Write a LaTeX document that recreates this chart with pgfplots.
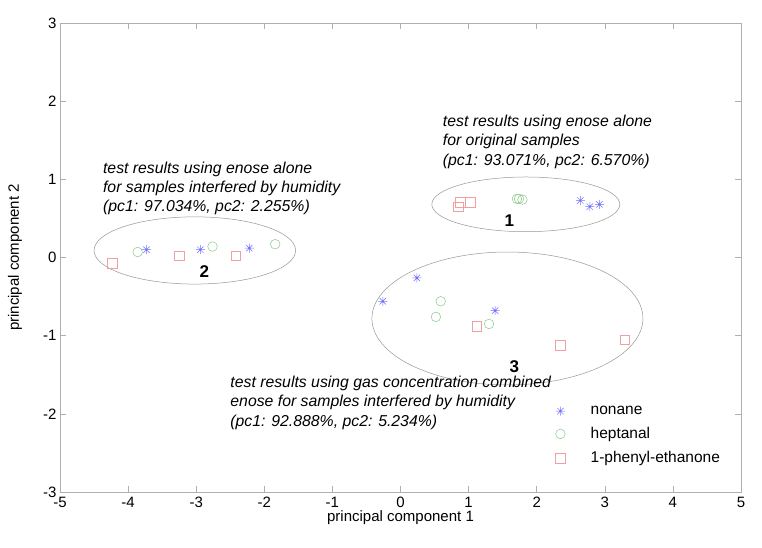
\documentclass[border=0pt]{standalone}
\usepackage{pgfplots}
\pgfplotsset{compat=1.18}
\usepackage{fontspec}
\setmainfont{Liberation Sans}
\definecolor{cstar}{RGB}{110,110,255}
\definecolor{ccirc}{RGB}{135,200,135}
\definecolor{csq}{RGB}{240,160,160}
\definecolor{axgray}{RGB}{175,175,175}
\definecolor{ellgray}{RGB}{150,150,150}
\pgfdeclareplotmark{mstar}{%
 \pgfpathmoveto{\pgfqpoint{-\pgfplotmarksize}{0pt}}\pgfpathlineto{\pgfqpoint{\pgfplotmarksize}{0pt}}%
 \pgfpathmoveto{\pgfqpoint{0pt}{-\pgfplotmarksize}}\pgfpathlineto{\pgfqpoint{0pt}{\pgfplotmarksize}}%
 \pgfpathmoveto{\pgfqpoint{-0.707\pgfplotmarksize}{-0.707\pgfplotmarksize}}\pgfpathlineto{\pgfqpoint{0.707\pgfplotmarksize}{0.707\pgfplotmarksize}}%
 \pgfpathmoveto{\pgfqpoint{-0.707\pgfplotmarksize}{0.707\pgfplotmarksize}}\pgfpathlineto{\pgfqpoint{0.707\pgfplotmarksize}{-0.707\pgfplotmarksize}}%
 \pgfusepathqstroke}
\newcommand{\lab}{\fontsize{15}{18}\selectfont}
\newcommand{\leg}{\fontsize{15.5}{18}\selectfont}
\newcommand{\ann}{\fontsize{15.8}{19.5}\selectfont\itshape}
\begin{document}
\begin{tikzpicture}
\begin{axis}[
  name=ax,
  scale only axis,
  width=681pt, height=469pt,
  xmin=-5, xmax=5, ymin=-3, ymax=3,
  xtick={-5,-4,...,5}, ytick={-3,-2,...,3},
  tick align=inside,
  major tick length=6pt,
  tick style={axgray, line width=0.5pt},
  axis line style={axgray, line width=0.6pt},
  /pgf/number format/assume math mode=true,
  ticklabel style={font=\lab},
  xticklabel style={yshift=-1.5pt},
  xlabel={principal component 1},
  ylabel={principal component 2},
  every axis x label/.style={at={(axis description cs:0.5,-0.055)}, anchor=center, font=\lab, inner sep=0pt},
  every axis y label/.style={at={(axis description cs:-0.066,0.5)}, rotate=90, anchor=center, font=\lab},
  legend cell align=left,
  legend image code/.code={\path (0pt,0pt) (37pt,0pt); \draw[#1] plot coordinates {(9pt,0pt)};},
  legend style={draw=none, fill=none, inner sep=0pt, at={(axis cs:2.21,-1.874)}, anchor=north west, font=\leg, row sep=7.5pt},
]
\addplot[only marks, mark=mstar, mark size=4.5pt, cstar, line width=0.5pt] coordinates {
 (-3.73,0.10) (-2.94,0.10) (-2.22,0.12)
 (2.64,0.73) (2.78,0.65) (2.92,0.68)
 (-0.26,-0.56) (0.24,-0.26) (1.39,-0.68)
};
\addlegendentry{nonane}
\addplot[only marks, mark=o, mark size=4.8pt, ccirc, line width=0.5pt] coordinates {
 (-3.86,0.07) (-2.76,0.14) (-1.84,0.17)
 (1.71,0.75) (1.74,0.75) (1.79,0.74)
 (0.59,-0.56) (0.52,-0.76) (1.30,-0.85)
};
\addlegendentry{heptanal}
\addplot[only marks, mark=square, mark size=4.8pt, csq, line width=0.5pt] coordinates {
 (-4.23,-0.07) (-3.25,0.02) (-2.42,0.02)
 (0.85,0.65) (0.88,0.71) (1.02,0.71)
 (1.12,-0.88) (2.35,-1.12) (3.29,-1.05)
};
\addlegendentry{1-phenyl-ethanone}
\draw[ellgray, line width=0.5pt] (axis cs:-3.02,0.09) ellipse [x radius=1.48, y radius=0.43];
\draw[ellgray, line width=0.5pt] (axis cs:1.84,0.68) ellipse [x radius=1.38, y radius=0.35];
\draw[ellgray, line width=0.5pt] (axis cs:1.57,-0.78) ellipse [x radius=1.99, y radius=0.85];
\node[anchor=north west, align=left, inner sep=0pt, font=\ann] at (axis cs:-4.37,1.23)
 {test results using enose alone\\for samples interfered by humidity\\(pc1: 97.034\%, pc2: 2.255\%)};
\node[anchor=north west, align=left, inner sep=0pt, font=\ann] at (axis cs:0.62,1.83)
 {test results using enose alone\\for original samples\\(pc1: 93.071\%, pc2: 6.570\%)};
\node[anchor=north west, align=left, inner sep=0pt, font=\ann] at (axis cs:-2.50,-1.51)
 {test results using gas concentration combined\\enose for samples interfered by humidity\\(pc1: 92.888\%, pc2: 5.234\%)};
\node[inner sep=0pt, font=\fontsize{17}{20}\selectfont\bfseries] at (axis cs:1.60,0.47) {1};
\node[inner sep=0pt, font=\fontsize{17}{20}\selectfont\bfseries] at (axis cs:-2.88,-0.18) {2};
\node[inner sep=0pt, font=\fontsize{17}{20}\selectfont\bfseries] at (axis cs:1.67,-1.40) {3};
\end{axis}
\path[use as bounding box] ([xshift=-60pt,yshift=-56pt]ax.south west) rectangle ([xshift=21pt,yshift=23pt]ax.north east);
\end{tikzpicture}
\end{document}
